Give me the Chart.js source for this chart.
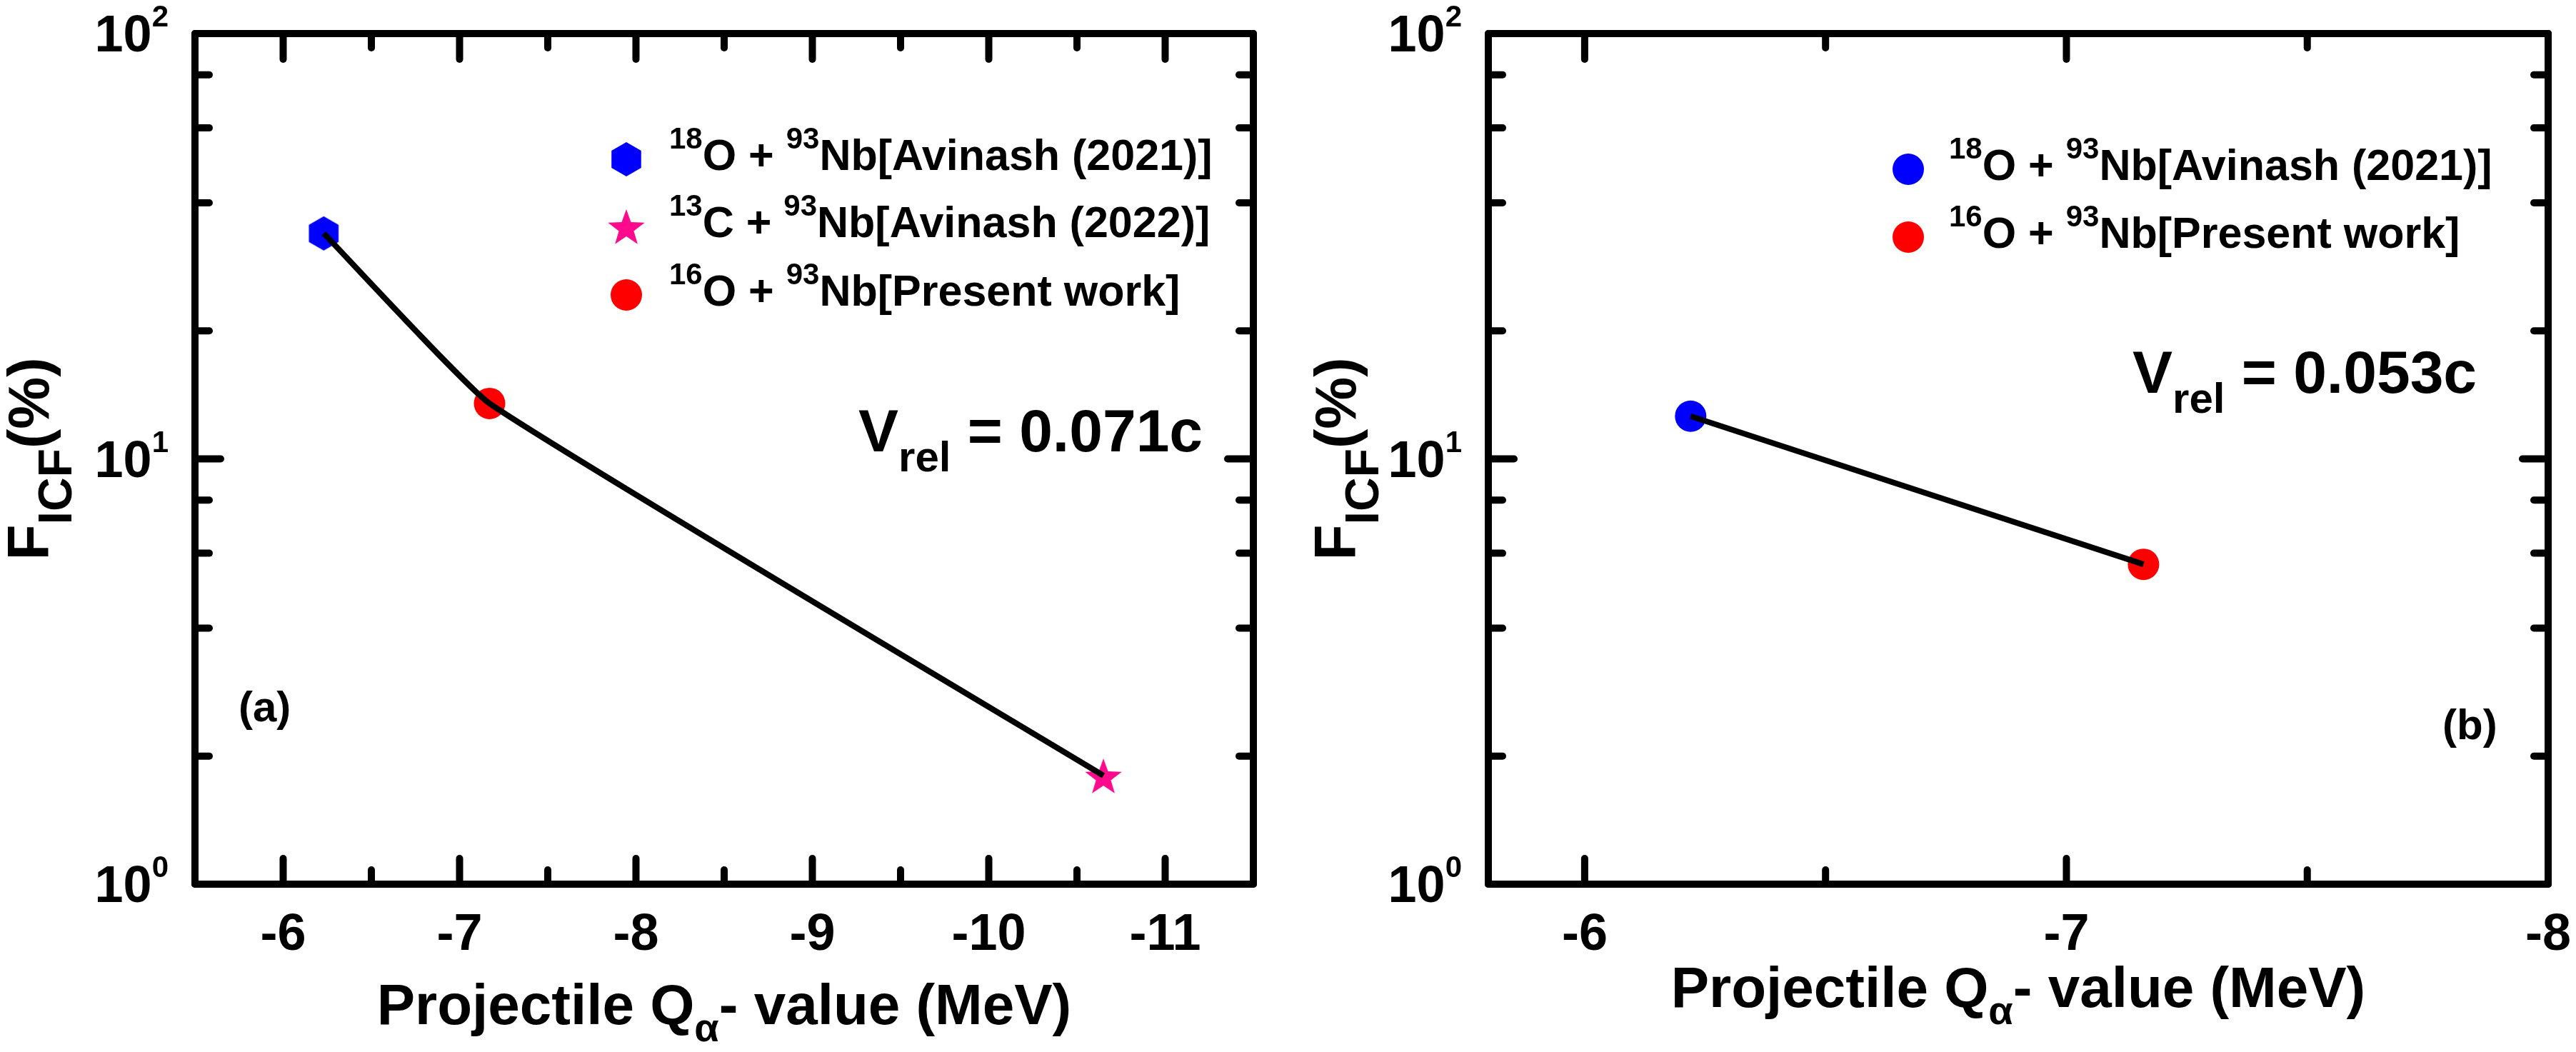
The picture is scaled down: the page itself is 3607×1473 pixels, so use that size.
<!DOCTYPE html>
<html><head><meta charset="utf-8">
<script src="https://cdn.jsdelivr.net/npm/chart.js@4"></script>
<style>
html,body{margin:0;padding:0;background:#fff;width:3607px;height:1473px;overflow:hidden}
.p{position:absolute;top:0;height:1473px}
</style></head><body>
<div class="p" style="left:0;width:1800px"><canvas id="ca"></canvas></div>
<div class="p" style="left:1800px;width:1807px"><canvas id="cb"></canvas></div>
<script>
// ---------- data ----------
const seriesA = ['18O + 93Nb[Avinash (2021)]', '13C + 93Nb[Avinash (2022)]', '16O + 93Nb[Present work]'];
const qA = [-6.23, -10.65, -7.17];
const fA = [33.9, 1.80, 13.5];
const seriesB = ['18O + 93Nb[Avinash (2021)]', '16O + 93Nb[Present work]'];
const qB = [-6.22, -7.16];
const fB = [12.6, 5.65];
const xMajorA = [-6, -7, -8, -9, -10, -11];
const xMinorA = [-6.5, -7.5, -8.5, -9.5, -10.5];
const xMajorB = [-6, -7, -8];
const xMinorB = [-6.5, -7.5];
const yMajor = [1, 10, 100];
const yMinor = [2, 4, 6, 8, 20, 40, 60, 80];
const vrelA = '0.071c';
const vrelB = '0.053c';

// ---------- helpers ----------
const FAM = '"Liberation Sans", Arial, Helvetica, sans-serif';
const font = s => `bold ${s}px ${FAM}`;
function richWidth(ctx, segs){ let w = 0; for (const s of segs){ ctx.font = font(s.size); w += ctx.measureText(s.t).width; } return w; }
function drawRich(ctx, segs, x, y, align){
  const w = richWidth(ctx, segs);
  let cx = align === 'center' ? x - w/2 : align === 'right' ? x - w : x;
  ctx.textAlign = 'left'; ctx.textBaseline = 'alphabetic';
  for (const s of segs){ ctx.font = font(s.size); ctx.fillText(s.t, cx, y + (s.dy || 0)); cx += ctx.measureText(s.t).width; }
}
function labelSegs(label, size, sup, supDy){
  const segs = []; const re = /(?:^|(?<=\s))(\d+)(?=[A-Z])/g; let last = 0, m;
  while ((m = re.exec(label))){
    if (m.index > last) segs.push({t: label.slice(last, m.index), size});
    segs.push({t: m[1], size: sup, dy: supDy});
    last = m.index + m[1].length;
  }
  if (last < label.length) segs.push({t: label.slice(last), size});
  return segs;
}
function hexImg(r, color){
  const c = document.createElement('canvas'); const w = Math.ceil(r*1.732)+2, h = r*2+2;
  c.width = w; c.height = h; const g = c.getContext('2d'); g.fillStyle = color; g.beginPath();
  for (let k = 0; k < 6; k++){ const a = -Math.PI/2 + k*Math.PI/3; const px = w/2 + r*Math.cos(a), py = h/2 + r*Math.sin(a); k ? g.lineTo(px, py) : g.moveTo(px, py); }
  g.closePath(); g.fill(); return c;
}
function starImg(R, r, color){
  const c = document.createElement('canvas'); const s = R*2+2; c.width = s; c.height = s;
  const g = c.getContext('2d'); g.fillStyle = color; g.beginPath();
  for (let k = 0; k < 10; k++){ const a = -Math.PI/2 + k*Math.PI/5; const rr = k % 2 ? r : R; const px = s/2 + rr*Math.cos(a), py = s/2 + 3 + rr*Math.sin(a); k ? g.lineTo(px, py) : g.moveTo(px, py); }
  g.closePath(); g.fill(); return c;
}
const HEX = hexImg(24, '#0000ff');
const STAR = starImg(27, 11, '#ff0a8c');
const markers = {
  hex: {img: HEX},
  star: {img: STAR},
  blue: {color: '#0000ff'},
  red: {color: '#ff0000'}
};
function drawMarker(ctx, m, x, y){
  if (m.img){ ctx.drawImage(m.img, x - m.img.width/2, y - m.img.height/2); }
  else { ctx.fillStyle = m.color; ctx.beginPath(); ctx.arc(x, y, 22, 0, Math.PI*2); ctx.fill(); }
}

const decor = {
  id: 'decor',
  afterDraw(chart){
    const o = chart.options.plugins.decor; const ctx = chart.ctx; const a = chart.chartArea;
    const xs = chart.scales.x, ys = chart.scales.y;
    ctx.save();
    ctx.strokeStyle = '#000'; ctx.fillStyle = '#000'; ctx.lineCap = 'round'; ctx.lineJoin = 'round'; ctx.lineWidth = 10;
    ctx.strokeRect(a.left, a.top, a.right - a.left, a.bottom - a.top);
    const tick = (x1, y1, x2, y2) => { ctx.beginPath(); ctx.moveTo(x1, y1); ctx.lineTo(x2, y2); ctx.stroke(); };
    const MJ = 36, MN = 20;
    for (const v of o.xMajor){ const p = xs.getPixelForValue(v); tick(p, a.bottom, p, a.bottom - MJ); tick(p, a.top, p, a.top + MJ); }
    for (const v of o.xMinor){ const p = xs.getPixelForValue(v); tick(p, a.bottom, p, a.bottom - MN); tick(p, a.top, p, a.top + MN); }
    for (const v of yMajor){ const p = ys.getPixelForValue(v); tick(a.left, p, a.left + MJ, p); tick(a.right, p, a.right - MJ, p); }
    for (const v of yMinor){ const p = ys.getPixelForValue(v); tick(a.left, p, a.left + MN, p); tick(a.right, p, a.right - MN, p); }
    // tick labels
    ctx.fillStyle = '#000';
    for (const v of o.xMajor){ const p = xs.getPixelForValue(v); drawRich(ctx, [{t: String(v), size: 72}], p, a.bottom + 92, 'center'); }
    for (const v of yMajor){ const p = ys.getPixelForValue(v); drawRich(ctx, [{t: '10', size: 72}, {t: String(Math.round(Math.log10(v))), size: 42, dy: -35}], a.left - 37, p + 25, 'right'); }
    // axis titles
    const cx = (a.left + a.right)/2, cy = (a.top + a.bottom)/2;
    drawRich(ctx, [{t: 'Projectile Q', size: 80}, {t: 'α', size: 56, dy: 24}, {t: '- value (MeV)', size: 80}], cx, o.xTitleY, 'center');
    ctx.save(); ctx.translate(o.yTitleX, cy); ctx.rotate(-Math.PI/2);
    drawRich(ctx, [{t: 'F', size: 82}, {t: 'ICF', size: 66, dy: 32}, {t: '(%)', size: 82}], 0, 0, 'center');
    ctx.restore();
    // legend
    o.legend.items.forEach((it, i) => {
      const y = o.legend.ys[i];
      drawMarker(ctx, markers[it.m], o.legend.x, y);
      ctx.fillStyle = '#000';
      drawRich(ctx, labelSegs(it.label, 61, 42, -30), o.legend.tx, y + 15, 'left');
    });
    // annotations
    drawRich(ctx, [{t: 'V', size: 84}, {t: 'rel', size: 60, dy: 28}, {t: ' = ' + o.vrel.val, size: 84}], o.vrel.x, o.vrel.y, 'left');
    drawRich(ctx, [{t: o.tag.t, size: 60}], o.tag.x, o.tag.y, 'left');
    ctx.restore();
  }
};

function makeChart(id, cfg){
  const pts = (xsArr, ysArr, i) => [{x: xsArr[i], y: ysArr[i]}];
  const lineData = cfg.q.map((x, i) => ({x, y: cfg.f[i]})).sort((p, q) => q.x - p.x);
  const datasets = [{
    label: 'line', data: lineData, showLine: true, borderColor: '#000', borderWidth: 8,
    pointRadius: 0, tension: cfg.tension, fill: false
  }];
  cfg.series.forEach((name, i) => {
    const m = markers[cfg.marks[i]];
    datasets.push({
      label: name, data: pts(cfg.q, cfg.f, i),
      pointStyle: m.img ? m.img : 'circle', pointRadius: 22, pointHoverRadius: 22,
      backgroundColor: m.color || '#000', borderColor: m.color || '#000', borderWidth: 0, showLine: false
    });
  });
  return new Chart(document.getElementById(id), {
    type: 'scatter',
    data: {datasets},
    plugins: [decor],
    options: {
      responsive: true, maintainAspectRatio: false, devicePixelRatio: 1, animation: false,
      layout: {padding: {top: 47, right: cfg.padRight, left: 0, bottom: 0}},
      plugins: {
        legend: {display: false}, tooltip: {enabled: false},
        decor: {
          xMajor: cfg.xMajor, xMinor: cfg.xMinor, xTitleY: cfg.xTitleY, yTitleX: cfg.yTitleX,
          legend: {x: cfg.legX, tx: cfg.legTX, ys: cfg.legYs, items: cfg.series.map((s, i) => ({label: s, m: cfg.marks[i]}))},
          vrel: {x: cfg.vrelX, y: cfg.vrelY, val: cfg.vrel}, tag: cfg.tag
        }
      },
      scales: {
        x: {type: 'linear', min: cfg.xmin, max: cfg.xmax, reverse: true,
            grid: {display: false}, border: {display: false}, ticks: {display: false},
            afterFit: s => { s.height = 235; }},
        y: {type: 'logarithmic', min: 1, max: 100,
            grid: {display: false}, border: {display: false}, ticks: {display: false},
            afterFit: s => { s.width = cfg.padLeft; }}
      }
    }
  });
}

makeChart('ca', {
  series: seriesA, q: qA, f: fA, marks: ['hex', 'star', 'red'], tension: 0.12,
  xmin: -11.5, xmax: -5.5, xMajor: xMajorA, xMinor: xMinorA,
  padLeft: 273, padRight: 45, xTitleY: 1434, yTitleX: 68,
  legX: 877, legTX: 937, legYs: [223, 317, 413],
  vrel: vrelA, vrelX: 1202, vrelY: 632, tag: {t: '(a)', x: 334, y: 1010}
});
makeChart('cb', {
  series: seriesB, q: qB, f: fB, marks: ['blue', 'red'], tension: 0,
  xmin: -8, xmax: -5.8, xMajor: xMajorB, xMinor: xMinorB,
  padLeft: 284, padRight: 39, xTitleY: 1410, yTitleX: 98,
  legX: 872, legTX: 929, legYs: [237, 332],
  vrel: vrelB, vrelX: 1186, vrelY: 550, tag: {t: '(b)', x: 1620, y: 1035}
});
</script>
</body></html>
